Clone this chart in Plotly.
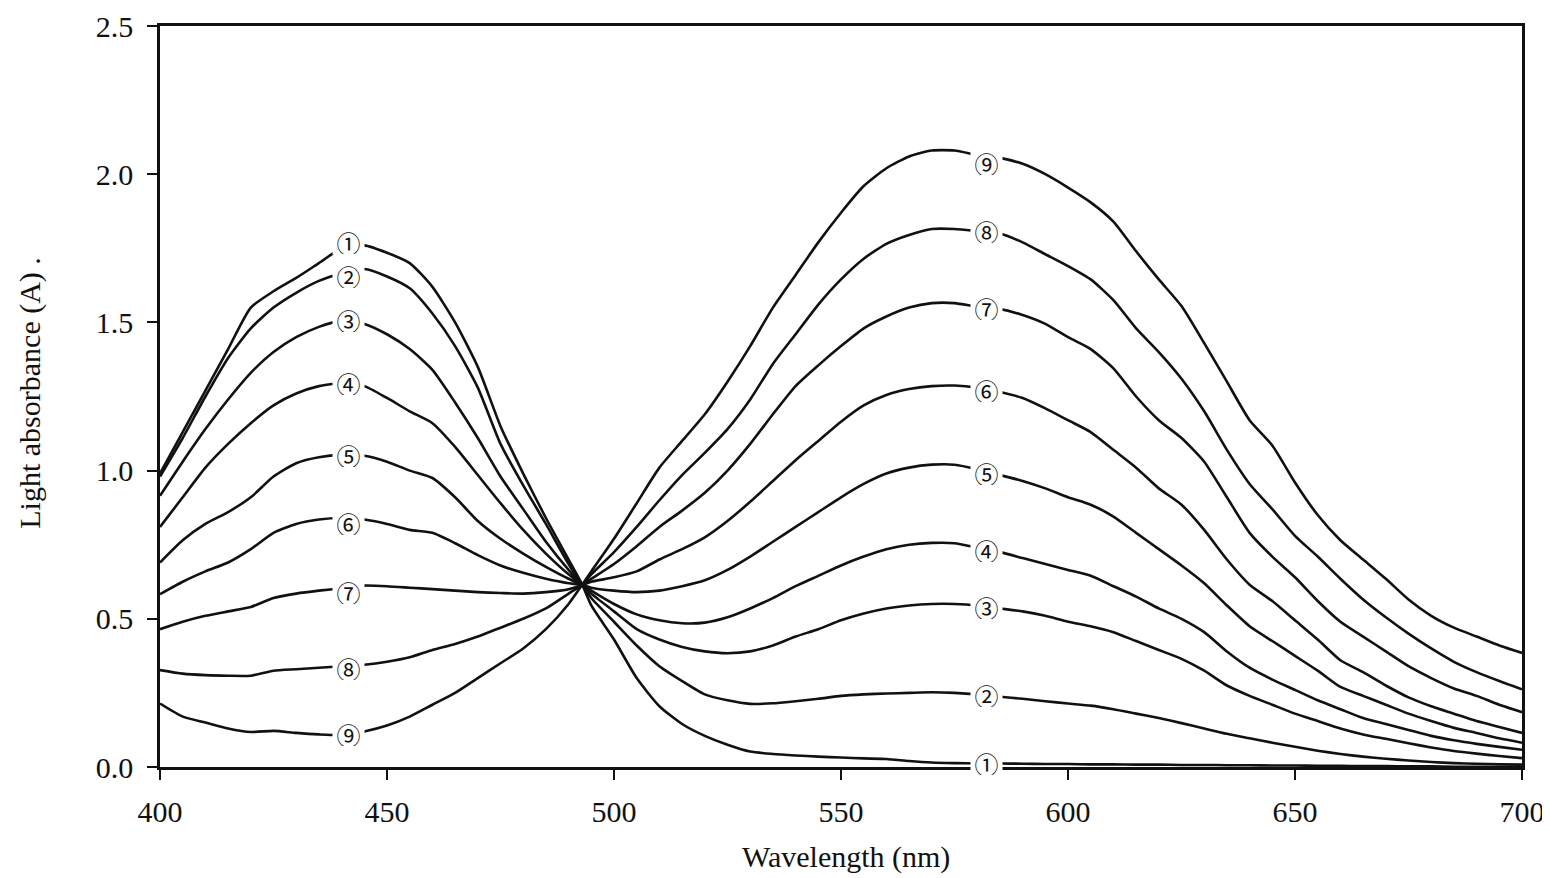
import plotly.graph_objects as go

wavelengths = [400, 405, 410, 415, 420, 425, 430, 435, 440, 445, 450, 455, 460, 465, 470, 475, 480, 485, 490, 493,
               495, 500, 505, 510, 515, 520, 525, 530, 535, 540, 545, 550, 555, 560, 565, 570, 575, 580, 585, 590,
               595, 600, 605, 610, 615, 620, 625, 630, 635, 640, 645, 650, 655, 660, 665, 670, 675, 680, 685, 690,
               695, 700]

curve_1 = [0.99, 1.13, 1.27, 1.41, 1.55, 1.605, 1.65, 1.70, 1.75, 1.76, 1.735, 1.70, 1.62, 1.50, 1.35, 1.15, 0.99, 0.84, 0.70, 0.615,
           0.545, 0.43, 0.30, 0.205, 0.145, 0.105, 0.075, 0.052, 0.044, 0.039, 0.035, 0.032, 0.029, 0.027, 0.02, 0.015, 0.013, 0.012, 0.012, 0.011,
           0.01, 0.01, 0.009, 0.009, 0.008, 0.008, 0.007, 0.007, 0.006, 0.006, 0.005, 0.005, 0.004, 0.004, 0.003, 0.003, 0.002, 0.002, 0.001, 0.001,
           0.0, 0.0]
curve_2 = [0.98, 1.11, 1.25, 1.38, 1.48, 1.55, 1.60, 1.64, 1.665, 1.68, 1.655, 1.615, 1.53, 1.42, 1.28, 1.09, 0.95, 0.82, 0.685, 0.615,
           0.57, 0.49, 0.41, 0.34, 0.29, 0.245, 0.225, 0.213, 0.215, 0.222, 0.23, 0.24, 0.245, 0.248, 0.25, 0.252, 0.25, 0.245, 0.237, 0.23,
           0.222, 0.214, 0.207, 0.195, 0.18, 0.165, 0.148, 0.13, 0.112, 0.097, 0.082, 0.068, 0.055, 0.044, 0.035, 0.028, 0.022, 0.017, 0.013, 0.011,
           0.009, 0.008]
curve_3 = [0.915, 1.03, 1.14, 1.24, 1.33, 1.40, 1.45, 1.485, 1.505, 1.495, 1.46, 1.41, 1.34, 1.23, 1.11, 0.98, 0.87, 0.76, 0.665, 0.615,
           0.585, 0.525, 0.465, 0.43, 0.405, 0.39, 0.384, 0.39, 0.41, 0.44, 0.465, 0.495, 0.518, 0.535, 0.545, 0.55, 0.55, 0.545, 0.535, 0.525,
           0.51, 0.49, 0.475, 0.455, 0.425, 0.395, 0.365, 0.325, 0.275, 0.24, 0.21, 0.18, 0.155, 0.13, 0.11, 0.095, 0.08, 0.066, 0.054, 0.045,
           0.037, 0.03]
curve_4 = [0.81, 0.91, 1.01, 1.09, 1.16, 1.22, 1.26, 1.285, 1.295, 1.285, 1.245, 1.20, 1.16, 1.08, 0.985, 0.89, 0.80, 0.72, 0.65, 0.615,
           0.595, 0.55, 0.515, 0.495, 0.485, 0.487, 0.505, 0.535, 0.57, 0.61, 0.645, 0.68, 0.71, 0.735, 0.75, 0.756, 0.755, 0.74, 0.725, 0.705,
           0.685, 0.665, 0.645, 0.61, 0.575, 0.535, 0.50, 0.455, 0.39, 0.335, 0.295, 0.26, 0.225, 0.195, 0.165, 0.145, 0.125, 0.105, 0.09, 0.078,
           0.068, 0.058]
curve_5 = [0.69, 0.765, 0.82, 0.86, 0.91, 0.98, 1.025, 1.045, 1.053, 1.05, 1.03, 1.00, 0.975, 0.91, 0.83, 0.77, 0.72, 0.675, 0.635, 0.615,
           0.605, 0.595, 0.59, 0.595, 0.61, 0.63, 0.665, 0.71, 0.76, 0.81, 0.86, 0.91, 0.955, 0.99, 1.01, 1.02, 1.02, 1.005, 0.985, 0.965,
           0.94, 0.91, 0.885, 0.845, 0.79, 0.735, 0.68, 0.62, 0.545, 0.475, 0.425, 0.375, 0.325, 0.27, 0.24, 0.21, 0.18, 0.155, 0.132, 0.115,
           0.097, 0.082]
curve_6 = [0.583, 0.625, 0.66, 0.69, 0.735, 0.79, 0.82, 0.835, 0.84, 0.835, 0.82, 0.80, 0.79, 0.755, 0.715, 0.68, 0.655, 0.635, 0.62, 0.615,
           0.625, 0.64, 0.66, 0.70, 0.735, 0.775, 0.83, 0.895, 0.965, 1.035, 1.10, 1.165, 1.22, 1.255, 1.275, 1.285, 1.287, 1.28, 1.265, 1.245,
           1.21, 1.17, 1.13, 1.07, 1.01, 0.94, 0.885, 0.80, 0.70, 0.615, 0.56, 0.495, 0.43, 0.36, 0.32, 0.275, 0.235, 0.205, 0.18, 0.155,
           0.135, 0.115]
curve_7 = [0.465, 0.49, 0.51, 0.525, 0.54, 0.57, 0.585, 0.595, 0.603, 0.612, 0.61, 0.605, 0.60, 0.595, 0.59, 0.587, 0.585, 0.59, 0.60, 0.615,
           0.635, 0.685, 0.745, 0.81, 0.865, 0.925, 1.00, 1.09, 1.19, 1.285, 1.355, 1.42, 1.48, 1.52, 1.55, 1.565, 1.565, 1.553, 1.545, 1.525,
           1.495, 1.45, 1.41, 1.345, 1.25, 1.17, 1.11, 1.03, 0.91, 0.79, 0.71, 0.64, 0.56, 0.49, 0.44, 0.39, 0.34, 0.30, 0.265, 0.24,
           0.21, 0.185]
curve_8 = [0.327, 0.315, 0.31, 0.308, 0.308, 0.325, 0.33, 0.335, 0.34, 0.345, 0.355, 0.37, 0.395, 0.415, 0.44, 0.47, 0.50, 0.535, 0.585, 0.615,
           0.65, 0.725, 0.81, 0.90, 0.985, 1.06, 1.14, 1.24, 1.36, 1.46, 1.56, 1.645, 1.715, 1.765, 1.795, 1.815, 1.815, 1.808, 1.80, 1.77,
           1.73, 1.69, 1.645, 1.575, 1.48, 1.40, 1.31, 1.20, 1.07, 0.955, 0.87, 0.78, 0.71, 0.635, 0.565, 0.505, 0.45, 0.40, 0.355, 0.32,
           0.29, 0.262]
curve_9 = [0.214, 0.17, 0.15, 0.13, 0.118, 0.122, 0.115, 0.11, 0.108, 0.12, 0.14, 0.17, 0.21, 0.25, 0.30, 0.35, 0.40, 0.465, 0.55, 0.615,
           0.66, 0.77, 0.89, 1.01, 1.10, 1.19, 1.30, 1.42, 1.55, 1.66, 1.77, 1.87, 1.96, 2.02, 2.06, 2.08, 2.08, 2.065, 2.055, 2.035,
           2.0, 1.955, 1.905, 1.84, 1.74, 1.645, 1.555, 1.43, 1.30, 1.17, 1.085, 0.96, 0.85, 0.765, 0.70, 0.635, 0.565, 0.51, 0.47, 0.44,
           0.41, 0.385]

curves = [curve_1, curve_2, curve_3, curve_4, curve_5, curve_6, curve_7, curve_8, curve_9]

label_texts = ["①", "②", "③", "④", "⑤", "⑥", "⑦", "⑧", "⑨"]
label_left_x = 441.5
label_left_y = [1.772, 1.657, 1.508, 1.296, 1.053, 0.823, 0.590, 0.334, 0.113]
label_right_x = 582.0
label_right_y = [0.013, 0.243, 0.540, 0.732, 0.992, 1.272, 1.549, 1.808, 2.038]

x_ticks = [400, 450, 500, 550, 600, 650, 700]
y_ticks = [0.0, 0.5, 1.0, 1.5, 2.0, 2.5]

fig = go.Figure()
for i, c in enumerate(curves):
    fig.add_trace(go.Scatter(x=wavelengths, y=c, mode="lines",
                             line=dict(color="#111111", width=2.6, shape="spline", smoothing=0.6),
                             showlegend=False, hoverinfo="skip", name=label_texts[i]))

label_font = dict(family="Noto Sans CJK JP, DejaVu Sans", size=24, color="#111111")
for t, yl, yr in reversed(list(zip(label_texts, label_left_y, label_right_y))):
    for xx, yy in ((label_left_x, yl), (label_right_x, yr)):
        fig.add_annotation(x=xx, y=yy, xref="x", yref="y", text=t,
                           showarrow=False, font=label_font, bgcolor="white",
                           width=31, height=24, valign="middle", align="center",
                           borderpad=0, xanchor="center", yanchor="middle")

serif = "Liberation Serif, Times New Roman, serif"
fig.add_annotation(x=-0.0955, y=0.505, xref="paper", yref="paper", text="Light absorbance (A) .",
                   textangle=-90, showarrow=False, font=dict(family=serif, size=30, color="#111111"),
                   xanchor="center", yanchor="middle")
fig.add_annotation(x=0.5035, y=-0.122, xref="paper", yref="paper", text="Wavelength (nm)",
                   showarrow=False, font=dict(family=serif, size=30, color="#111111"),
                   xanchor="center", yanchor="middle")

fig.update_xaxes(range=[400, 700], tickvals=x_ticks, ticktext=[str(v) for v in x_ticks],
                 showline=True, linecolor="#111111", linewidth=2.5, mirror=True,
                 ticks="outside", ticklen=10, tickwidth=1.5, tickcolor="#111111",
                 ticklabelstandoff=6,
                 showgrid=False, zeroline=False,
                 tickfont=dict(family=serif, size=30, color="#111111"))
fig.update_yaxes(range=[0, 2.5], tickvals=y_ticks, ticktext=["%.1f" % v for v in y_ticks],
                 showline=True, linecolor="#111111", linewidth=2.5, mirror=True,
                 ticks="outside", ticklen=10, tickwidth=1.5, tickcolor="#111111",
                 ticklabelstandoff=8,
                 showgrid=False, zeroline=False,
                 tickfont=dict(family=serif, size=30, color="#111111"))

fig.update_layout(width=1542, height=866,
                  margin=dict(l=152, r=28, t=18, b=107, autoexpand=False),
                  paper_bgcolor="white", plot_bgcolor="white")

fig.write_html("out.html")
